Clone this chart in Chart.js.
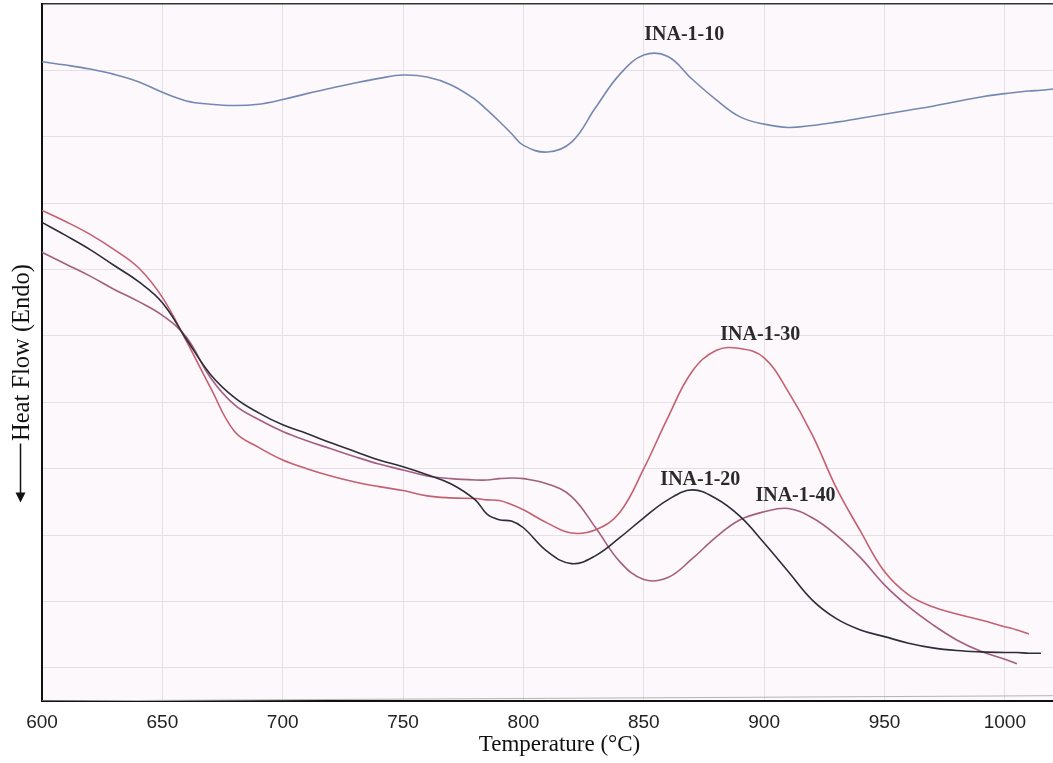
<!DOCTYPE html>
<html>
<head>
<meta charset="utf-8">
<script src="https://cdn.jsdelivr.net/npm/chart.js"></script>
<style>
    html, body { margin: 0; padding: 0; background: #fff; }
    #wrap { width: 1053px; height: 763px; }
</style>
</head>
<body>
<div id="wrap"><canvas id="dscChart"></canvas></div>
<script>
// temperature (C) shared by all curves
var temps = [600, 610, 620, 630, 640, 650, 660, 670, 680, 690,
             700, 710, 720, 730, 740, 750, 760, 770, 780, 785,
             790, 795, 800, 810, 820, 830, 840, 850, 860, 870,
             880, 890, 900, 910, 920, 930, 940, 950, 960, 970,
             980, 990, 1000, 1005, 1010, 1015, 1020];

// heat flow, arbitrary units (one grid step = 1)
var ina10 = [9.63, 9.58, 9.52, 9.44, 9.33, 9.17, 9.04, 8.99, 8.97, 8.99,
             9.06, 9.15, 9.23, 9.31, 9.38, 9.43, 9.40, 9.28, 9.06, 8.90,
             8.73, 8.55, 8.37, 8.27, 8.42, 8.94, 9.44, 9.73, 9.71, 9.37,
             9.06, 8.80, 8.69, 8.64, 8.67, 8.72, 8.78, 8.84, 8.90, 8.96,
             9.03, 9.10, 9.15, 9.17, 9.19, 9.20, 9.22];
var ina20 = [7.21, 7.01, 6.80, 6.56, 6.32, 6.00, 5.45, 4.92, 4.57, 4.34,
             4.16, 4.03, 3.89, 3.76, 3.63, 3.53, 3.41, 3.27, 3.03, 2.81,
             2.73, 2.71, 2.61, 2.25, 2.07, 2.19, 2.46, 2.76, 3.03, 3.18,
             3.05, 2.78, 2.38, 1.95, 1.52, 1.24, 1.07, 0.97, 0.87, 0.80,
             0.76, 0.74, 0.73, 0.73, 0.72, 0.72, null];
var ina30 = [7.39, 7.22, 7.03, 6.80, 6.53, 6.08, 5.42, 4.72, 4.06, 3.82,
             3.63, 3.50, 3.39, 3.30, 3.23, 3.17, 3.09, 3.06, 3.05, 3.03,
             3.02, 2.96, 2.88, 2.68, 2.53, 2.58, 2.84, 3.50, 4.27, 4.96,
             5.28, 5.31, 5.17, 4.66, 4.01, 3.21, 2.56, 1.95, 1.60, 1.42,
             1.31, 1.22, 1.12, 1.07, 1.01, null, null];
var ina40 = [6.76, 6.58, 6.40, 6.20, 6.02, 5.81, 5.48, 4.87, 4.46, 4.24,
             4.06, 3.92, 3.80, 3.68, 3.57, 3.48, 3.39, 3.35, 3.33, 3.33,
             3.35, 3.36, 3.35, 3.27, 3.08, 2.61, 2.10, 1.83, 1.86, 2.14,
             2.47, 2.73, 2.85, 2.90, 2.76, 2.50, 2.16, 1.75, 1.42, 1.15,
             0.92, 0.75, 0.63, 0.56, null, null, null];

// faint instrument baseline along the bottom
var baseTemps = [600, 1020];
var baseVals = [0, 0.08];

var xTicks = [600, 650, 700, 750, 800, 850, 900, 950, 1000];
var yGrid = [0.5, 1.5, 2.5, 3.5, 4.5, 5.5, 6.5, 7.5, 8.5, 9.5, 10.5];

var curveNames = ['INA-1-10', 'INA-1-20', 'INA-1-30', 'INA-1-40'];
var labelX = [866.8, 873.5, 898.4, 913];
var labelY = [10.03, 3.33, 5.51, 3.09];

function toPoints(xs, ys) {
    var pts = [];
    for (var i = 0; i < xs.length; i++) {
        pts.push({x: xs[i], y: ys[i]});
    }
    return pts;
}

function curve(label, values, color) {
    return {
        label: label,
        data: toPoints(temps, values),
        borderColor: color,
        borderWidth: 1.6,
        pointRadius: 0,
        tension: 0.4,
        spanGaps: false,
        fill: false
    };
}

var plotBackground = {
    id: 'plotBackground',
    beforeDraw: function (chart) {
        var a = chart.chartArea, ctx = chart.ctx;
        ctx.save();
        ctx.fillStyle = '#fdf8fc';
        ctx.fillRect(a.left, a.top, a.right - a.left, a.bottom - a.top);
        ctx.restore();
    }
};

var curveLabels = {
    id: 'curveLabels',
    afterDatasetsDraw: function (chart) {
        var ctx = chart.ctx;
        var xs = chart.scales.x, ys = chart.scales.y;
        ctx.save();
        ctx.font = 'bold 20px "Liberation Serif", "Times New Roman", serif';
        ctx.fillStyle = '#2a2a2a';
        ctx.textAlign = 'center';
        ctx.textBaseline = 'middle';
        for (var i = 0; i < curveNames.length; i++) {
            ctx.fillText(curveNames[i], xs.getPixelForValue(labelX[i]), ys.getPixelForValue(labelY[i]));
        }
        ctx.restore();
    }
};

// x title sits a little right of centre in the original, and the
// y title has a down arrow under it
var axisExtras = {
    id: 'axisExtras',
    afterDraw: function (chart) {
        var ctx = chart.ctx, a = chart.chartArea;
        var cx = (a.left + a.right) / 2 + 12;
        var cy = (a.top + a.bottom) / 2;
        ctx.save();
        ctx.font = '23px "Liberation Serif", "Times New Roman", serif';
        ctx.fillStyle = '#111';
        ctx.textAlign = 'center';
        ctx.textBaseline = 'middle';
        ctx.fillText('Temperature (°C)', cx, a.bottom + 44);

        var x = 20.5, y0 = cy + 91, y1 = cy + 150;
        ctx.strokeStyle = '#111';
        ctx.lineWidth = 1.5;
        ctx.beginPath();
        ctx.moveTo(x, y0);
        ctx.lineTo(x, y1 - 8);
        ctx.stroke();
        ctx.beginPath();
        ctx.moveTo(x - 5, y1 - 10);
        ctx.lineTo(x + 5, y1 - 10);
        ctx.lineTo(x, y1);
        ctx.closePath();
        ctx.fill();
        ctx.restore();
    }
};

var ctx = document.getElementById('dscChart').getContext('2d');
new Chart(ctx, {
    type: 'line',
    data: {
        datasets: [
            curve('INA-1-10', ina10, '#7489b2'),
            curve('INA-1-20', ina20, '#2c2c3a'),
            curve('INA-1-30', ina30, '#c4606f'),
            curve('INA-1-40', ina40, '#a45f7f'),
            {
                label: 'baseline',
                data: toPoints(baseTemps, baseVals),
                borderColor: '#b5b5b5',
                borderWidth: 1,
                pointRadius: 0
            }
        ]
    },
    options: {
        responsive: true,
        maintainAspectRatio: false,
        animation: false,
        layout: {padding: {top: 4, right: 0, bottom: 0, left: 0}},
        plugins: {
            legend: {display: false},
            tooltip: {enabled: false}
        },
        scales: {
            x: {
                type: 'linear',
                min: 600,
                max: 1020,
                afterBuildTicks: function (scale) {
                    scale.ticks = xTicks.map(function (v) { return {value: v}; });
                },
                afterFit: function (scale) { scale.height = 62; },
                grid: {color: '#e6e0e6', lineWidth: 1, drawTicks: false},
                border: {color: '#111', width: 2},
                ticks: {
                    padding: 10,
                    color: '#222',
                    font: {family: '"Liberation Sans", Arial, sans-serif', size: 19},
                    callback: function (v) { return String(v); }
                }
            },
            y: {
                type: 'linear',
                min: 0,
                max: 10.5,
                afterBuildTicks: function (scale) {
                    scale.ticks = yGrid.map(function (v) { return {value: v}; });
                },
                afterFit: function (scale) { scale.width = 42; },
                grid: {
                    drawTicks: false,
                    lineWidth: function (c) { return c.tick && c.tick.value === 10.5 ? 1.5 : 1; },
                    color: function (c) { return c.tick && c.tick.value === 10.5 ? '#333' : '#e6e0e6'; }
                },
                border: {color: '#111', width: 2},
                ticks: {display: false},
                title: {
                    display: true,
                    text: 'Heat Flow (Endo)',
                    color: '#111',
                    padding: {top: 8, bottom: 0},
                    font: {family: '"Liberation Serif", "Times New Roman", serif', size: 24.5}
                }
            }
        }
    },
    plugins: [plotBackground, curveLabels, axisExtras]
});
</script>
</body>
</html>
